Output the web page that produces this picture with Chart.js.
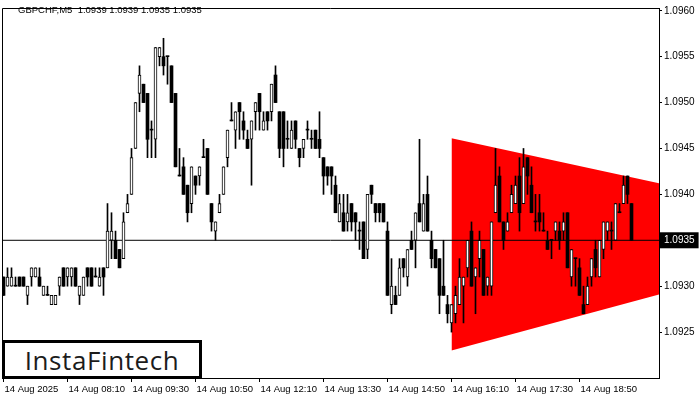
<!DOCTYPE html>
<html>
<head>
<meta charset="utf-8">
<script src="https://cdn.jsdelivr.net/npm/chart.js@4"></script>
<style>
  html, body { margin: 0; padding: 0; background: #fff; }
  #wrap { position: relative; width: 700px; height: 400px; overflow: hidden; }
  #c { position: absolute; left: 0; top: 0; }
  #title { position: absolute; left: 18px; top: 4px; font: 9.5px 'Liberation Sans', Arial, sans-serif; color: #000; white-space: pre; }
  #logo { position: absolute; left: 2px; top: 340px; width: 200px; height: 39px; box-sizing: border-box; border: 3px solid #000; background: #fff;
          display: flex; align-items: center; justify-content: center; font: 500 26px 'Open Sans', sans-serif; letter-spacing: 0.6px; color: #1c1c1c; }
</style>
</head>
<body>
<div id="wrap">
  <canvas id="c" width="700" height="400"></canvas>
  <div id="title"></div>
  <div id="logo">InstaFintech</div>
</div>
<script>
// ---- data (GBPCHF, M5, 14 Aug 2025 from 06:50) ----
const symbol = "GBPCHF";
const timeframe = "M5";
const open = [
1.0931,1.0930,1.0930,1.0930,1.0931,1.0931,1.0929,1.0931,1.0931,1.0931,
1.0929,1.0929,1.0928,1.0928,1.0930,1.0932,1.0931,1.0931,1.0932,1.0929,
1.0929,1.0932,1.0932,1.0931,1.0930,1.0932,1.0932,1.0935,1.0935,1.0934,
1.0933,1.0938,1.0940,1.0945,1.0951,1.0952,1.0951,1.0947,1.0946,1.0955,
1.0955,1.0955,1.0954,1.0951,1.0942,1.0943,1.0941,1.0939,1.0942,1.0942,
1.0944,1.0945,1.0939,1.0936,1.0938,1.0940,1.0944,1.0948,1.0947,1.0950,
1.0948,1.0946,1.0946,1.0949,1.0951,1.0947,1.0949,1.0949,1.0953,1.0949,
1.0949,1.0946,1.0945,1.0948,1.0945,1.0945,1.0947,1.0946,1.0947,1.0946,
1.0944,1.0943,1.0943,1.0941,1.0937,1.0938,1.0937,1.0939,1.0938,1.0936,
1.0937,1.0934,1.0941,1.0939,1.0939,1.0939,1.0936,1.0928,1.0929,1.0929,
1.0933,1.0931,1.0935,1.0935,1.0939,1.0936,1.0940,1.0935,1.0934,1.0933,
1.0930,1.0928,1.0926,1.0927,1.0928,1.0930,1.0932,1.0936,1.0931,1.0933,
1.0934,1.0930,1.0930,1.0938,1.0942,1.0937,1.0936,1.0938,1.0939,1.0942,
1.0939,1.0944,1.0941,1.0937,1.0938,1.0936,1.0935,1.0935,1.0936,1.0936,
1.0936,1.0938,1.0931,1.0933,1.0932,1.0928,1.0928,1.0931,1.0934,1.0931,
1.0934,1.0936,1.0936,1.0935,1.0938,1.0939,1.0942,1.0939];
const high = [
1.0931,1.0932,1.0932,1.0931,1.0931,1.0931,1.0930,1.0932,1.0932,1.0932,
1.0930,1.0930,1.0929,1.0929,1.0931,1.0932,1.0932,1.0932,1.0932,1.0930,
1.0931,1.0932,1.0932,1.0932,1.0932,1.0932,1.0939,1.0938,1.0936,1.0934,
1.0938,1.0940,1.0945,1.0950,1.0954,1.0952,1.0951,1.0948,1.0956,1.0956,
1.0957,1.0955,1.0954,1.0951,1.0945,1.0944,1.0941,1.0943,1.0942,1.0943,
1.0946,1.0945,1.0939,1.0937,1.0940,1.0943,1.0947,1.0950,1.0949,1.0950,
1.0949,1.0947,1.0948,1.0950,1.0951,1.0949,1.0949,1.0952,1.0954,1.0949,
1.0949,1.0948,1.0948,1.0948,1.0945,1.0946,1.0948,1.0947,1.0947,1.0949,
1.0944,1.0943,1.0943,1.0942,1.0940,1.0940,1.0940,1.0939,1.0938,1.0937,
1.0937,1.0940,1.0941,1.0939,1.0939,1.0939,1.0937,1.0933,1.0930,1.0933,
1.0933,1.0934,1.0936,1.0938,1.0946,1.0940,1.0942,1.0936,1.0934,1.0933,
1.0935,1.0929,1.0928,1.0930,1.0933,1.0931,1.0935,1.0937,1.0932,1.0936,
1.0934,1.0931,1.0937,1.0945,1.0943,1.0937,1.0938,1.0941,1.0942,1.0944,
1.0945,1.0944,1.0943,1.0940,1.0940,1.0938,1.0936,1.0935,1.0937,1.0937,
1.0938,1.0938,1.0934,1.0933,1.0933,1.0930,1.0931,1.0933,1.0935,1.0935,
1.0937,1.0937,1.0937,1.0939,1.0939,1.0942,1.0942,1.0939];
const low = [
1.0929,1.0930,1.0930,1.0930,1.0930,1.0930,1.0928,1.0930,1.0931,1.0930,
1.0929,1.0929,1.0928,1.0928,1.0929,1.0930,1.0930,1.0930,1.0930,1.0928,
1.0929,1.0930,1.0930,1.0931,1.0930,1.0929,1.0932,1.0933,1.0933,1.0932,
1.0933,1.0938,1.0940,1.0945,1.0949,1.0950,1.0944,1.0944,1.0944,1.0954,
1.0953,1.0952,1.0950,1.0943,1.0942,1.0940,1.0937,1.0938,1.0940,1.0941,
1.0944,1.0940,1.0936,1.0935,1.0938,1.0940,1.0943,1.0948,1.0945,1.0946,
1.0946,1.0945,1.0941,1.0947,1.0947,1.0947,1.0947,1.0948,1.0950,1.0944,
1.0943,1.0945,1.0945,1.0945,1.0943,1.0944,1.0946,1.0945,1.0945,1.0944,
1.0940,1.0941,1.0940,1.0938,1.0937,1.0936,1.0936,1.0936,1.0935,1.0934,
1.0933,1.0933,1.0939,1.0937,1.0937,1.0937,1.0929,1.0927,1.0928,1.0929,
1.0931,1.0930,1.0934,1.0932,1.0937,1.0936,1.0936,1.0932,1.0932,1.0927,
1.0929,1.0926,1.0925,1.0926,1.0928,1.0926,1.0931,1.0930,1.0927,1.0931,
1.0929,1.0929,1.0929,1.0938,1.0937,1.0934,1.0936,1.0938,1.0939,1.0936,
1.0939,1.0940,1.0938,1.0936,1.0936,1.0936,1.0934,1.0933,1.0935,1.0934,
1.0935,1.0932,1.0930,1.0930,1.0929,1.0927,1.0928,1.0930,1.0931,1.0931,
1.0933,1.0935,1.0934,1.0935,1.0938,1.0939,1.0939,1.0935];
const close = [
1.0929,1.0931,1.0931,1.0930,1.0930,1.0930,1.0930,1.0932,1.0932,1.0930,
1.0930,1.0929,1.0929,1.0929,1.0931,1.0930,1.0932,1.0932,1.0930,1.0930,
1.0931,1.0931,1.0930,1.0931,1.0931,1.0931,1.0936,1.0936,1.0933,1.0932,
1.0937,1.0939,1.0944,1.0950,1.0953,1.0950,1.0946,1.0947,1.0956,1.0956,
1.0954,1.0955,1.0950,1.0943,1.0942,1.0940,1.0938,1.0943,1.0941,1.0943,
1.0944,1.0940,1.0937,1.0937,1.0939,1.0943,1.0947,1.0948,1.0949,1.0949,
1.0947,1.0945,1.0948,1.0950,1.0949,1.0948,1.0948,1.0952,1.0950,1.0945,
1.0945,1.0946,1.0947,1.0946,1.0944,1.0946,1.0947,1.0946,1.0945,1.0945,
1.0942,1.0942,1.0942,1.0938,1.0939,1.0936,1.0938,1.0937,1.0937,1.0936,
1.0933,1.0940,1.0940,1.0938,1.0938,1.0937,1.0929,1.0930,1.0928,1.0932,
1.0932,1.0934,1.0934,1.0938,1.0937,1.0939,1.0936,1.0933,1.0932,1.0929,
1.0929,1.0927,1.0928,1.0929,1.0931,1.0931,1.0935,1.0930,1.0932,1.0935,
1.0929,1.0931,1.0937,1.0941,1.0937,1.0935,1.0937,1.0940,1.0941,1.0938,
1.0943,1.0942,1.0938,1.0937,1.0937,1.0936,1.0934,1.0935,1.0937,1.0935,
1.0937,1.0932,1.0934,1.0933,1.0929,1.0927,1.0930,1.0933,1.0932,1.0935,
1.0937,1.0937,1.0936,1.0939,1.0938,1.0941,1.0940,1.0935];
// time-axis labels every 16 bars (80 minutes)
const timeTickIndex = [0, 16, 32, 48, 64, 80, 96, 112, 128, 144];
const timeTickLabels = ["14 Aug 2025","14 Aug 08:10","14 Aug 09:30","14 Aug 10:50","14 Aug 12:10",
                        "14 Aug 13:30","14 Aug 14:50","14 Aug 16:10","14 Aug 17:30","14 Aug 18:50"];
// price-axis labels
const priceTicks = [1.0925, 1.0930, 1.0935, 1.0940, 1.0945, 1.0950, 1.0955, 1.0960];
// bearish symmetrical triangle pattern (bar index / price)
const triStartBar = 112;
const triUpper = [1.09461, 1.09412];
const triLower = [1.09230, 1.09291];

// ---- view ----
const X_MIN = -0.375, X_MAX = 163.875;
const Y_MIN = 1.0920, Y_MAX = 1.09603;
const n = close.length;
const last = n - 1;
const curPrice = close[last];

document.getElementById('title').textContent =
  symbol + ',' + timeframe + '  ' + [open[last], high[last], low[last], close[last]].map(v => v.toFixed(4)).join(' ');

const idx = close.map((_, i) => i);
const bull = idx.map(i => close[i] > open[i]);
const bodyData = idx.map(i => ({ x: i, y: [Math.min(open[i], close[i]), Math.max(open[i], close[i])] }));
const wickData = idx.map(i => ({ x: i, y: [low[i], high[i]] }));

const isCur = v => Math.abs(v - curPrice) < 1e-9;
const FONT = "'Liberation Sans', Arial, sans-serif";

const framePlugin = {
  id: 'frame',
  afterDraw(chart) {
    const { ctx, chartArea: a } = chart;
    ctx.save();
    ctx.strokeStyle = '#000';
    ctx.lineWidth = 1;
    ctx.beginPath();
    ctx.moveTo(a.left + 0.5, a.bottom);
    ctx.lineTo(a.left + 0.5, a.top + 0.5);
    ctx.lineTo(a.right, a.top + 0.5);
    ctx.stroke();
    ctx.restore();
  }
};

new Chart(document.getElementById('c'), {
  type: 'bar',
  data: {
    datasets: [
      { type: 'bar', label: 'body', data: bodyData, grouped: false, barThickness: 3, minBarLength: 1,
        backgroundColor: idx.map(i => bull[i] ? '#ffffff' : '#000000'),
        borderColor: '#000000', borderWidth: idx.map(i => bull[i] ? 1 : 0), borderSkipped: false },
      { type: 'bar', label: 'wick', data: wickData, grouped: false, barThickness: 1, minBarLength: 1,
        backgroundColor: '#000000', borderWidth: 0 },
      { type: 'line', label: 'price', data: [{ x: X_MIN, y: curPrice }, { x: X_MAX, y: curPrice }],
        borderColor: '#000000', borderWidth: 1, pointRadius: 0, fill: false },
      { type: 'line', label: 'triUpper', data: [{ x: triStartBar, y: triUpper[0] }, { x: X_MAX, y: triUpper[1] }],
        borderWidth: 0, pointRadius: 0, backgroundColor: '#ff0000', fill: '+1' },
      { type: 'line', label: 'triLower', data: [{ x: triStartBar, y: triLower[0] }, { x: X_MAX, y: triLower[1] }],
        borderWidth: 0, pointRadius: 0, fill: false }
    ]
  },
  options: {
    responsive: false,
    animation: false,
    events: [],
    devicePixelRatio: 1,
    layout: { padding: { left: 2, top: 2, right: 0, bottom: 0 } },
    plugins: { legend: { display: false }, tooltip: { enabled: false }, title: { display: false } },
    scales: {
      x: {
        type: 'linear', min: X_MIN, max: X_MAX, offset: false, position: 'bottom',
        grid: { display: true, drawOnChartArea: false, drawTicks: true, tickLength: 4, color: '#000', offset: false },
        border: { display: true, color: '#000', width: 1 },
        afterBuildTicks: s => { s.ticks = timeTickIndex.map(v => ({ value: v })); },
        afterFit: s => { s.height = 22; },
        ticks: { autoSkip: false, maxRotation: 0, minRotation: 0, align: 'start', padding: 2, labelOffset: 1,
                 color: '#000', font: { family: FONT, size: 9.5 },
                 callback: (v, i) => timeTickLabels[i] }
      },
      y: {
        type: 'linear', position: 'right', min: Y_MIN, max: Y_MAX,
        grid: { display: true, drawOnChartArea: false, drawTicks: true, tickLength: 3, color: '#000' },
        border: { display: true, color: '#000', width: 1 },
        afterBuildTicks: s => { s.ticks = priceTicks.map(v => ({ value: v })); },
        afterFit: s => { s.width = 41; },
        ticks: { autoSkip: false, padding: 2, font: { family: FONT, size: 10 },
                 color: c => isCur(c.tick.value) ? '#ffffff' : '#000000',
                 showLabelBackdrop: c => isCur(c.tick.value),
                 backdropColor: c => isCur(c.tick.value) ? '#000000' : 'rgba(0,0,0,0)',
                 backdropPadding: { x: 4, y: 2 },
                 callback: v => v.toFixed(4) }
      }
    }
  },
  plugins: [framePlugin]
});
</script>
</body>
</html>
